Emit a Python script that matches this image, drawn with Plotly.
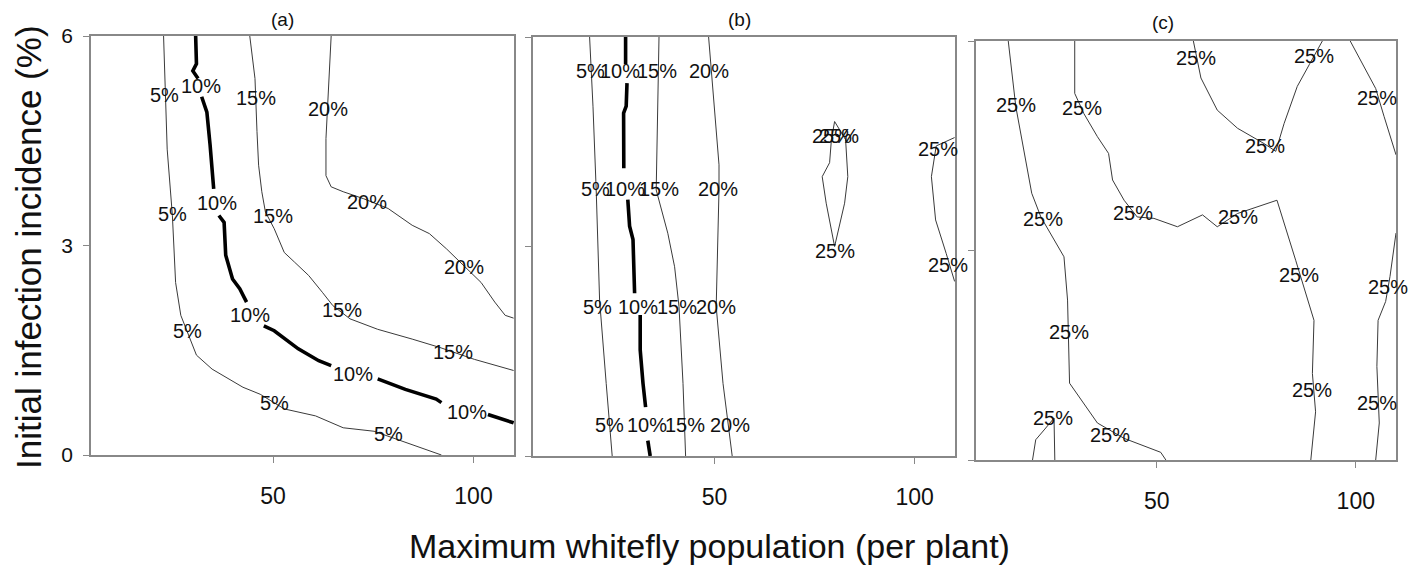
import plotly.graph_objects as go

# page is 1419x573; the html body has an 8px margin, so the figure is drawn 16px smaller
PAGE_W, PAGE_H, OFF = 1419, 573, 8
W, H = PAGE_W - 2 * OFF, PAGE_H - 2 * OFF
FONT = "Arial, 'Liberation Sans', sans-serif"

def px(x):
    return (x - OFF) / W

def py(y):
    return 1 - (y - OFF) / H

# ---------------- data: panel (a) ----------------
a5_x = [22.7, 23.6, 24.9, 25.7, 27.0, 30.9, 34.8, 42.5, 46.8, 52.8, 60.6, 67.5, 75.2, 83.0, 92.0]
a5_y = [6.0, 4.38, 3.43, 2.47, 2.0, 1.43, 1.23, 0.97, 0.87, 0.66, 0.56, 0.39, 0.34, 0.18, 0.0]
a10_x = [30.7, 30.9, 30.0, 30.4, 31.3, None,
         32.2, 33.5, 34.3, 35.2, None,
         36.5, 37.8, 38.2, 39.9, 41.7, 43.4, None,
         47.7, 50.3, 56.3, 61.4, 64.5, None,
         76.1, 83.0, 90.7, 92.0, None,
         103.6, 110.0]
a10_y = [6.0, 5.6, 5.5, 5.46, 5.39, None,
         5.13, 4.91, 4.44, 3.81, None,
         3.43, 3.33, 2.86, 2.52, 2.38, 2.19, None,
         1.85, 1.78, 1.52, 1.35, 1.28, None,
         1.09, 0.94, 0.80, 0.75, None,
         0.58, 0.46]
a15_x = [44.2, 45.5, 46.0, 46.4, 47.2, 48.1, 50.3, 52.8, 55.4, 58.9, 62.3, 64.9, 69.2, 76.1, 84.7, 91.6, 100.2, 110.0]
a15_y = [6.0, 5.39, 4.63, 4.15, 3.77, 3.48, 3.24, 2.90, 2.76, 2.57, 2.33, 2.14, 1.95, 1.80, 1.66, 1.54, 1.37, 1.21]
a20_x = [64.5, 64.0, 63.6, 63.2, 63.2, 64.5, 67.5, 72.6, 78.7, 84.7, 89.0, 93.3, 101.9, 105.3, 107.9, 110.0]
a20_y = [6.0, 5.34, 4.96, 4.53, 4.0, 3.84, 3.77, 3.67, 3.53, 3.29, 3.17, 2.95, 2.47, 2.19, 2.0, 1.96]
a_lab_x = [23.0, 32.0, 45.8, 63.6, 24.9, 36.1, 50.1, 73.5, 97.7, 67.2, 44.3, 28.6, 94.8, 69.9, 50.3, 98.3, 78.7]
a_lab_y = [5.15, 5.29, 5.11, 4.96, 3.45, 3.61, 3.42, 3.62, 2.69, 2.07, 2.0, 1.78, 1.47, 1.16, 0.74, 0.62, 0.30]
a_lab_t = ["5%", "10%", "15%", "20%", "5%", "10%", "15%", "20%", "20%", "15%", "10%", "5%", "15%", "10%", "5%", "10%", "5%"]

# ---------------- data: panel (b) ----------------
b5_x = [18.75, 19.6, 20.4, 21.25, 22.9, 24.4]
b5_y = [6.0, 5.0, 3.81, 2.23, 1.04, 0.0]
b10_x = [27.75, 27.75, None, 28.1, 27.9, 27.25, 27.3, None, 28.3, 28.75, 29.6, 30.0, None,
         31.4, 31.4, 32.1, 32.75, None, 33.3, 33.9]
b10_y = [6.0, 5.61, None, 5.34, 5.01, 4.91, 4.12, None, 3.67, 3.29, 3.10, 2.33, None,
         2.02, 1.52, 1.04, 0.70, None, 0.22, 0.0]
b15_x = [36.1, 35.8, 35.4, 38.3, 40.0, 41.1, 42.1, 42.75]
b15_y = [6.0, 4.87, 3.81, 3.19, 2.71, 2.14, 1.04, 0.0]
b20_x = [48.5, 49.6, 51.1, 51.1, 50.8, 50.4, 52.1, 54.4]
b20_y = [6.0, 5.2, 4.17, 3.81, 2.95, 2.14, 1.04, 0.0]
b25a_x = [80.0, 79.2, 78.75, 76.9, 77.9, 80.0, 82.5, 83.3, 82.75, 80.0]
b25a_y = [4.79, 4.53, 4.20, 4.0, 3.62, 3.0, 3.62, 4.0, 4.53, 4.79]
b25b_x = [110.0, 105.4, 104.2, 105.25, 107.9, 110.0]
b25b_y = [4.56, 4.44, 4.0, 3.38, 2.90, 2.50]
b_lab_x = [18.9, 26.4, 35.6, 48.7, 20.2, 27.6, 36.2, 50.75, 20.75, 30.9, 40.6, 50.4,
           23.75, 33.1, 42.7, 53.75, 79.3, 81.1, 80.0, 105.8, 108.3]
b_lab_y = [5.52, 5.52, 5.52, 5.52, 3.83, 3.83, 3.83, 3.83, 2.14, 2.14, 2.14, 2.14,
           0.45, 0.45, 0.45, 0.45, 4.58, 4.58, 2.93, 4.39, 2.74]
b_lab_t = ["5%", "10%", "15%", "20%", "5%", "10%", "15%", "20%", "5%", "10%", "15%", "20%",
           "5%", "10%", "15%", "20%", "25%", "25%", "25%", "25%", "25%"]

# ---------------- data: panel (c) ----------------
c1_x = [12.7, 14.6, 18.6, 20.9, 26.7, 27.6, 28.1, 35.1, 41.8, 48.5, 51.0, 52.3]
c1_y = [6.0, 5.06, 3.82, 3.48, 2.91, 2.29, 1.10, 0.53, 0.31, 0.17, 0.11, 0.0]
c2_x = [18.8, 19.6, 21.7, 24.2, 24.4]
c2_y = [0.0, 0.29, 0.43, 0.60, 0.0]
c3_x = [29.4, 29.4, 31.7, 35.1, 37.9, 38.9, 41.8, 45.1, 49.3, 55.2, 61.5, 65.2, 70.3, 80.2, 84.9, 89.5, 89.1, 89.9, 88.7]
c3_y = [6.0, 5.25, 4.96, 4.63, 4.39, 4.01, 3.72, 3.48, 3.46, 3.34, 3.51, 3.34, 3.53, 3.72, 2.86, 2.0, 1.24, 0.69, 0.0]
c4_x = [59.2, 60.2, 61.1, 65.2, 70.3, 77.0, 79.9, 82.0, 85.3, 88.3, 91.6]
c4_y = [6.0, 5.73, 5.47, 5.01, 4.75, 4.53, 4.42, 4.82, 5.35, 5.66, 6.0]
c5_x = [98.6, 105.0, 107.1, 110.1]
c5_y = [6.0, 5.32, 4.92, 4.37]
c6_x = [110.1, 108.6, 107.5, 105.6, 105.3, 105.9, 105.0]
c6_y = [3.25, 2.63, 2.27, 2.0, 1.34, 0.53, 0.0]
c_lab_x = [14.7, 31.3, 59.8, 89.4, 105.4, 77.1, 44.1, 21.4, 70.4, 85.8, 108.0, 28.0, 89.1, 105.4, 24.0, 38.3]
c_lab_y = [5.08, 5.04, 5.75, 5.79, 5.18, 4.49, 3.53, 3.45, 3.48, 2.65, 2.48, 1.84, 1.00, 0.81, 0.60, 0.36]
c_lab_t = ["25%"] * 16

# ---------------- axes ----------------
x_range = [4.6, 110.1]
y_range = [0, 6]
x_ticks = [50, 100]
y_ticks = [0, 3, 6]
panel_titles = ["(a)", "(b)", "(c)"]

THIN = dict(color="#3a3a3a", width=1)
THICK = dict(color="#000000", width=3.6)

fig = go.Figure()

def add_line(x, y, ax, line):
    fig.add_trace(go.Scatter(x=x, y=y, mode="lines", line=line, xaxis="x" + ax, yaxis="y" + ax,
                             showlegend=False, hoverinfo="skip", connectgaps=False))

# panel a
add_line(a5_x, a5_y, "", THIN)
add_line(a15_x, a15_y, "", THIN)
add_line(a20_x, a20_y, "", THIN)
add_line(a10_x, a10_y, "", THICK)
# panel b
add_line(b5_x, b5_y, "2", THIN)
add_line(b15_x, b15_y, "2", THIN)
add_line(b20_x, b20_y, "2", THIN)
add_line(b25a_x, b25a_y, "2", THIN)
add_line(b25b_x, b25b_y, "2", THIN)
add_line(b10_x, b10_y, "2", THICK)
# panel c
for xs, ys in [(c1_x, c1_y), (c2_x, c2_y), (c3_x, c3_y), (c4_x, c4_y), (c5_x, c5_y), (c6_x, c6_y)]:
    add_line(xs, ys, "3", THIN)

annotations = []
for ax, lx, ly, lt in [("", a_lab_x, a_lab_y, a_lab_t), ("2", b_lab_x, b_lab_y, b_lab_t), ("3", c_lab_x, c_lab_y, c_lab_t)]:
    for xv, yv, tv in zip(lx, ly, lt):
        annotations.append(dict(x=xv, y=yv, xref="x" + ax, yref="y" + ax, text=tv, showarrow=False,
                                font=dict(family=FONT, size=20, color="#111111"),
                                xanchor="center", yanchor="middle"))

# panel geometry in page pixels (left, right, top, bottom)
boxes = [(91, 514, 36, 455), (533, 955, 37, 456), (976, 1396, 41, 460)]
title_pos = [(282, 19), (739, 19), (1163, 22)]
for t, (tx, ty) in zip(panel_titles, title_pos):
    annotations.append(dict(x=px(tx), y=py(ty), xref="paper", yref="paper", text=t, showarrow=False,
                            font=dict(family=FONT, size=19, color="#111111"), xanchor="center", yanchor="middle"))

annotations.append(dict(x=px(28), y=py(247), xref="paper", yref="paper",
                        text="Initial infection incidence (%)", textangle=-90, showarrow=False,
                        font=dict(family=FONT, size=35, color="#111111"), xanchor="center", yanchor="middle"))
annotations.append(dict(x=px(709), y=py(546), xref="paper", yref="paper",
                        text="Maximum whitefly population (per plant)", showarrow=False,
                        font=dict(family=FONT, size=34, color="#111111"), xanchor="center", yanchor="middle"))

layout = dict(width=W, height=H, margin=dict(l=0, r=0, t=0, b=0, autoexpand=False),
              plot_bgcolor="white", paper_bgcolor="white", annotations=annotations)

for i, (l, r, t, b) in enumerate(boxes):
    suf = "" if i == 0 else str(i + 1)
    layout["xaxis" + suf] = dict(domain=[px(l), px(r)], range=x_range, tickvals=x_ticks,
                                 ticktext=[str(v) for v in x_ticks], ticks="outside", ticklen=6,
                                 tickcolor="#888888", showline=True, linecolor="#888888", linewidth=1.5,
                                 mirror=True, showgrid=False, zeroline=False, anchor="y" + suf,
                                 automargin=False,
                                 tickfont=dict(family=FONT, size=23, color="#111111"),
                                 ticklabelstandoff=14)
    layout["yaxis" + suf] = dict(domain=[py(b), py(t)], range=y_range, tickvals=y_ticks,
                                 ticks="outside", ticklen=6, tickcolor="#888888", showline=True,
                                 linecolor="#888888", linewidth=1.5, mirror=True, showgrid=False,
                                 zeroline=False, anchor="x" + suf, showticklabels=(i == 0),
                                 automargin=False,
                                 tickfont=dict(family=FONT, size=21, color="#111111"),
                                 ticklabelstandoff=6)

fig.update_layout(**layout)
fig.write_html("out.html")
